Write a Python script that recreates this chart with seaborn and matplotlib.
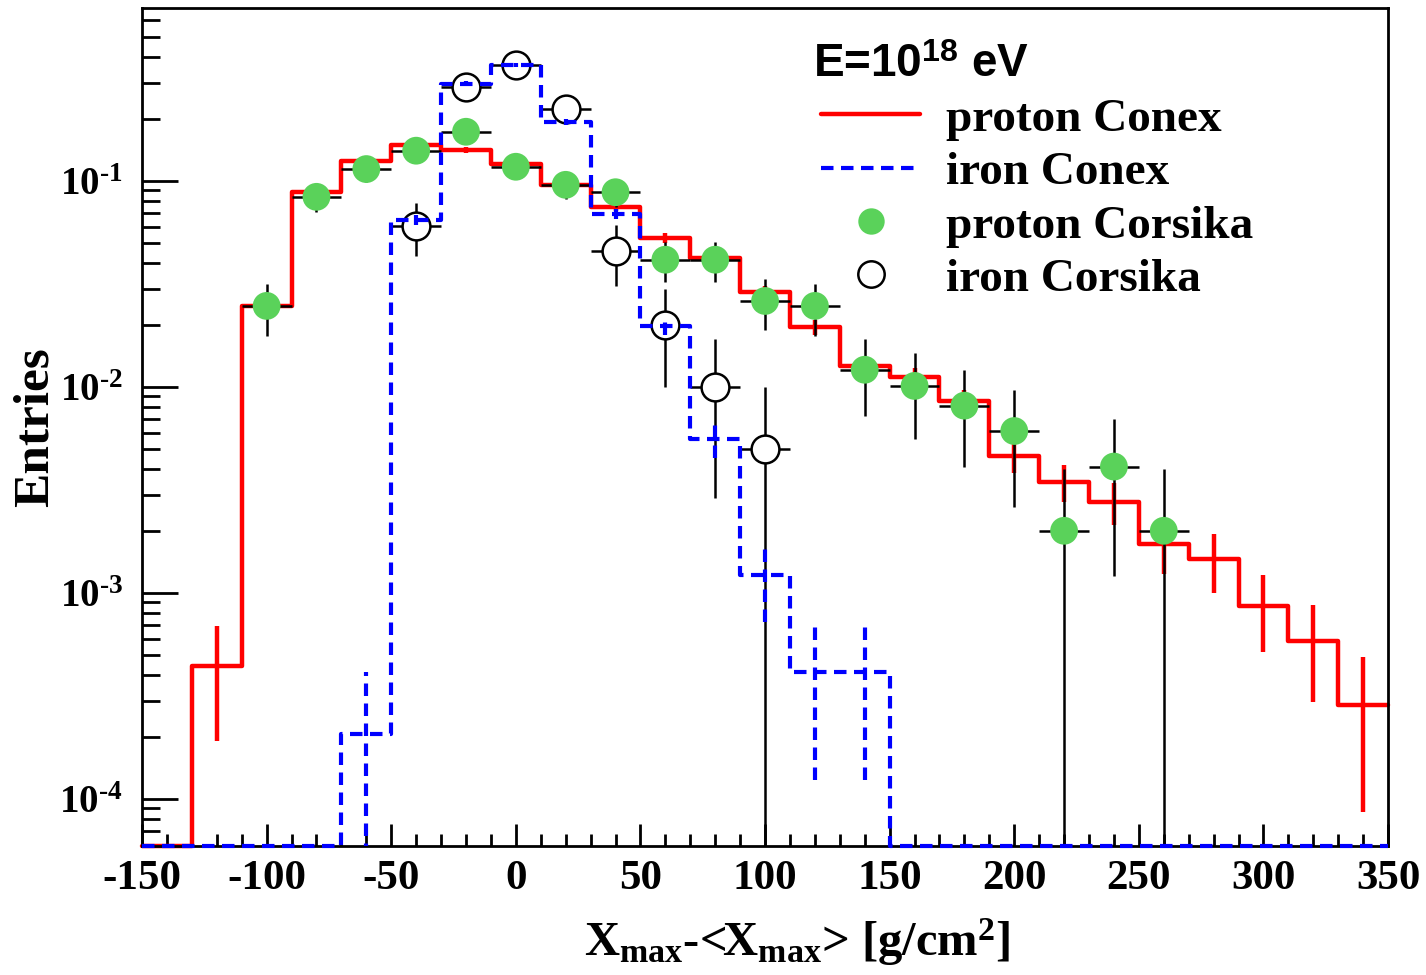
import numpy as np
import matplotlib
matplotlib.use("Agg")
import matplotlib.pyplot as plt
import seaborn as sns
from matplotlib.lines import Line2D
from matplotlib.ticker import MultipleLocator, LogLocator, FuncFormatter, NullFormatter
from matplotlib.font_manager import FontProperties

# bin centres of the Conex histograms (20 g/cm2 bins)
bins = [-140, -120, -100, -80, -60, -40, -20, 0, 20, 40, 60, 80, 100,
        120, 140, 160, 180, 200, 220, 240, 260, 280, 300, 320, 340]

proton_conex = [0, 4.4e-4, 0.0247, 0.0885, 0.125, 0.149, 0.141, 0.121, 0.0956,
                0.0747, 0.0528, 0.0421, 0.0289, 0.0195, 0.0126, 0.0111, 0.00855,
                0.00463, 0.00346, 0.00277, 0.00173, 0.00146, 0.000865, 0.000585, 0.000286]
proton_conex_err = [0, 2.5e-4, 0.00188, 0.00356, 0.00423, 0.00461, 0.00449, 0.00416, 0.0037,
                    0.00327, 0.00275, 0.00245, 0.00203, 0.00167, 0.00134, 0.00126, 0.0011,
                    0.00081, 0.0007, 0.00063, 0.0005, 0.00046, 0.00035, 0.00029, 0.0002]

iron_conex = [0, 0, 0, 0, 2.07e-4, 0.0647, 0.296, 0.366, 0.193, 0.069, 0.0198, 0.0056,
              0.00122, 0.000413, 0.000413, 0, 0, 0, 0, 0, 0, 0, 0, 0, 0]
iron_conex_err = [0, 0, 0, 0, 2.07e-4, 0.00363, 0.00772, 0.00869, 0.00634, 0.00377, 0.00202,
                  0.00107, 0.0005, 0.00029, 0.00029, 0, 0, 0, 0, 0, 0, 0, 0, 0, 0]

# Corsika points
p_cors_x = [-100, -80, -60, -40, -20, 0, 20, 40, 60, 80, 100, 120, 140, 160, 180, 200, 220, 240, 260]
p_cors_y = [0.0247, 0.0836, 0.114, 0.140, 0.173, 0.117, 0.0956, 0.088, 0.0414, 0.0414,
            0.0261, 0.0247, 0.0121, 0.0101, 0.0081, 0.0061, 0.0020, 0.0041, 0.0020]
p_cors_err = [0.0070, 0.0130, 0.0151, 0.0167, 0.0186, 0.0153, 0.0138, 0.0133, 0.0091, 0.0091,
              0.0072, 0.0070, 0.0049, 0.0045, 0.0040, 0.0035, 0.0020, 0.0029, 0.0020]

fe_cors_x = [-40, -20, 0, 20, 40, 60, 80, 100]
fe_cors_y = [0.0605, 0.285, 0.366, 0.224, 0.0457, 0.0200, 0.0100, 0.0050]
fe_cors_err = [0.0173, 0.0377, 0.0427, 0.0335, 0.0150, 0.0100, 0.0071, 0.0050]

bin_width = 20
ymin, ymax = 5.9e-5, 0.69

sns.set_theme(style="ticks")
plt.rcParams['font.family'] = ['Liberation Serif', 'DejaVu Serif']
plt.rcParams['font.weight'] = 'bold'
plt.rcParams['axes.labelweight'] = 'bold'
plt.rcParams['text.color'] = 'black'
plt.rcParams['axes.labelcolor'] = 'black'
plt.rcParams['axes.unicode_minus'] = False
plt.rcParams['mathtext.fontset'] = 'custom'
plt.rcParams['mathtext.rm'] = 'Liberation Serif:bold'
plt.rcParams['mathtext.bf'] = 'Liberation Serif:bold'
plt.rcParams['mathtext.it'] = 'Liberation Serif:bold:italic'
plt.rcParams['mathtext.sf'] = 'Liberation Sans:bold'

fig = plt.figure(figsize=(14.26, 9.75), dpi=100)
ax = fig.add_axes([0.0996, 0.1323, 0.8738, 0.8595])
ax.set_yscale('log', nonpositive='clip')


def stairs(vals):
    # step outline: left edges + last right edge, zero bins lie on the frame
    edges = [b - bin_width / 2 for b in bins] + [bins[-1] + bin_width / 2]
    v = [max(x, ymin) for x in vals]
    return edges, v + [v[-1]]


# proton Conex
ex, ey = stairs(proton_conex)
sns.lineplot(x=ex, y=ey, ax=ax, sort=False, estimator=None, drawstyle='steps-post',
             color='#ff0000', linewidth=3.2, zorder=2, clip_on=False)
m = np.array(proton_conex) > 0
ax.errorbar(np.array(bins)[m], np.array(proton_conex)[m], yerr=np.array(proton_conex_err)[m],
            fmt='none', ecolor='#ff0000', elinewidth=3.2, capsize=0, zorder=2)

# iron Conex
ex, ey = stairs(iron_conex)
sns.lineplot(x=ex, y=ey, ax=ax, sort=False, estimator=None, drawstyle='steps-post',
             color='#0000ff', linewidth=3.0, linestyle=(0, (3, 1.8)), zorder=4.5, clip_on=False)
m = np.array(iron_conex) > 0
eb = ax.errorbar(np.array(bins)[m], np.array(iron_conex)[m], yerr=np.array(iron_conex_err)[m],
                 fmt='none', ecolor='#0000ff', elinewidth=3.0, capsize=0, zorder=4.5)
for lc in eb[2]:
    lc.set_linestyle((0, (3, 1.8)))

# Corsika error bars
ax.errorbar(p_cors_x, p_cors_y, yerr=p_cors_err, xerr=bin_width / 2, fmt='none',
            ecolor='black', elinewidth=1.8, capsize=0, zorder=3)
ax.errorbar(fe_cors_x, fe_cors_y, yerr=fe_cors_err, xerr=bin_width / 2, fmt='none',
            ecolor='black', elinewidth=1.8, capsize=0, zorder=3)

sns.scatterplot(x=fe_cors_x, y=fe_cors_y, ax=ax, marker='o', s=400, color='white',
                edgecolor='black', linewidth=1.8, zorder=4)
sns.scatterplot(x=p_cors_x, y=p_cors_y, ax=ax, marker='o', s=400, color='#5ad25a',
                edgecolor='none', linewidth=0, zorder=5)

ax.set_xlim(-150, 350)
ax.set_ylim(ymin, ymax)

ax.xaxis.set_major_locator(MultipleLocator(50))
ax.xaxis.set_minor_locator(MultipleLocator(10))
ax.yaxis.set_major_locator(LogLocator(base=10))
ax.yaxis.set_minor_locator(LogLocator(base=10, subs=np.arange(2, 10)))
ax.yaxis.set_major_formatter(FuncFormatter(
    lambda v, p: r'$\mathbf{10^{\text{-}%d}}$' % abs(int(round(np.log10(v))))))
ax.yaxis.set_minor_formatter(NullFormatter())

ax.tick_params(axis='both', which='both', direction='in', top=False, right=False, width=2,
               colors='black')
ax.tick_params(axis='x', which='major', length=16, pad=10, labelsize=31)
ax.tick_params(axis='x', which='minor', length=8.5)
ax.tick_params(axis='y', which='major', length=26, pad=14, labelsize=28)
ax.tick_params(axis='y', which='minor', length=13)
for s in ax.spines.values():
    s.set_linewidth(2)
    s.set_color('black')

ax.set_xlabel(r'X$_{\mathrm{max}}$-<X$_{\mathrm{max}}$> [g/cm$^{\mathrm{2}}$]', fontsize=35,
              fontweight='bold', color='black')
ax.xaxis.set_label_coords(0.526, -0.084)
ax.set_ylabel('Entries', fontsize=37, fontweight='bold', color='black')
ax.yaxis.set_label_coords(-0.067, 0.5)

handles = [
    Line2D([], [], color='#ff0000', lw=3.2),
    Line2D([], [], color='#0000ff', lw=3.0, linestyle=(0, (3, 1.8))),
    Line2D([], [], color='none', marker='o', markersize=19, markerfacecolor='#5ad25a',
           markeredgecolor='none'),
    Line2D([], [], color='none', marker='o', markersize=19, markerfacecolor='white',
           markeredgecolor='black', markeredgewidth=1.8),
]
labels = ['proton Conex', 'iron Conex', 'proton Corsika', 'iron Corsika']
leg = ax.legend(handles, labels, loc='upper left', bbox_to_anchor=(0.545, 0.958),
                frameon=False, fontsize=34, handlelength=2.1, handletextpad=0.55,
                labelspacing=0.22, borderpad=0, borderaxespad=0,
                title=r'E=10$^{\mathsf{18}}$ eV',
                title_fontproperties=FontProperties(family='Liberation Sans', weight='bold', size=33),
                alignment='left')
# ROOT puts the energy header a bit left of the line samples
leg.get_title().set_position((-8, 0))

fig.savefig('out.png', dpi=100)
